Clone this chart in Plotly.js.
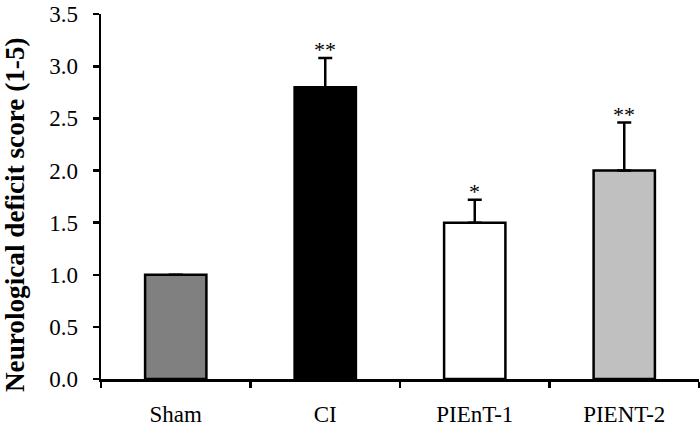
<!DOCTYPE html>
<html>
<head>
<meta charset="utf-8">
<script src="https://cdn.plot.ly/plotly-3.0.1.min.js"></script>
<style>html,body{margin:0;padding:0;background:#fff;}#chart{width:700px;height:428px;}</style>
</head>
<body>
<div id="chart"></div>
<script>
var groups = ["Sham", "CI", "PIEnT-1", "PIENT-2"];
var scores = [1.0, 2.8, 1.5, 2.0];
var sem = [0, 0.28, 0.22, 0.46];
var signif = ["", "**", "*", "**"];
var barColors = ["#808080", "#000000", "#ffffff", "#c0c0c0"];
var yTitle = "Neurological deficit score (1-5)";

var serif = "Liberation Serif, Times New Roman, serif";

var trace = {
  type: "bar",
  x: groups,
  y: scores,
  marker: {color: barColors, line: {color: "#000000", width: 2.5}},
  error_y: {type: "data", symmetric: false, array: sem, arrayminus: sem.map(function(){return 0;}),
            color: "#000000", thickness: 2.5, width: 7},
  hoverinfo: "none"
};

var annotations = groups.map(function(g, i) {
  return {x: g, y: scores[i] + sem[i], xref: "x", yref: "y", text: signif[i],
          showarrow: false, yanchor: "bottom", yshift: -6,
          font: {family: serif, size: 22, color: "#000"}};
});
annotations.push({
  xref: "paper", yref: "paper", x: -0.145, y: 0.45, xanchor: "center", yanchor: "middle",
  textangle: -90, showarrow: false, text: "<b>" + yTitle + "</b>",
  font: {family: serif, size: 27.2, color: "#000"}
});

var layout = {
  width: 700, height: 428,
  margin: {l: 101, r: 1, t: 14, b: 49},
  paper_bgcolor: "#ffffff", plot_bgcolor: "#ffffff",
  showlegend: false,
  bargap: 0.59,
  xaxis: {
    type: "category",
    showline: true, linecolor: "#000", linewidth: 2.5,
    ticks: "outside", tickson: "boundaries", ticklen: 6, tickwidth: 2.5, tickcolor: "#000",
    showgrid: false, zeroline: false,
    tickfont: {family: serif, size: 23, color: "#000"},
    ticklabelstandoff: 13, ticklabeloverflow: "allow"
  },
  yaxis: {
    range: [0, 3.502], tickvals: [0, 0.5, 1, 1.5, 2, 2.5, 3, 3.5], tickformat: ".1f",
    showline: true, linecolor: "#000", linewidth: 2.5,
    ticks: "outside", ticklen: 6, tickwidth: 2.5, tickcolor: "#000",
    showgrid: false, zeroline: false,
    tickfont: {family: serif, size: 23, color: "#000"},
    ticklabelstandoff: 10, ticklabeloverflow: "allow"
  },
  annotations: annotations
};

Plotly.newPlot("chart", [trace], layout, {displayModeBar: false, staticPlot: true});
</script>
</body>
</html>
